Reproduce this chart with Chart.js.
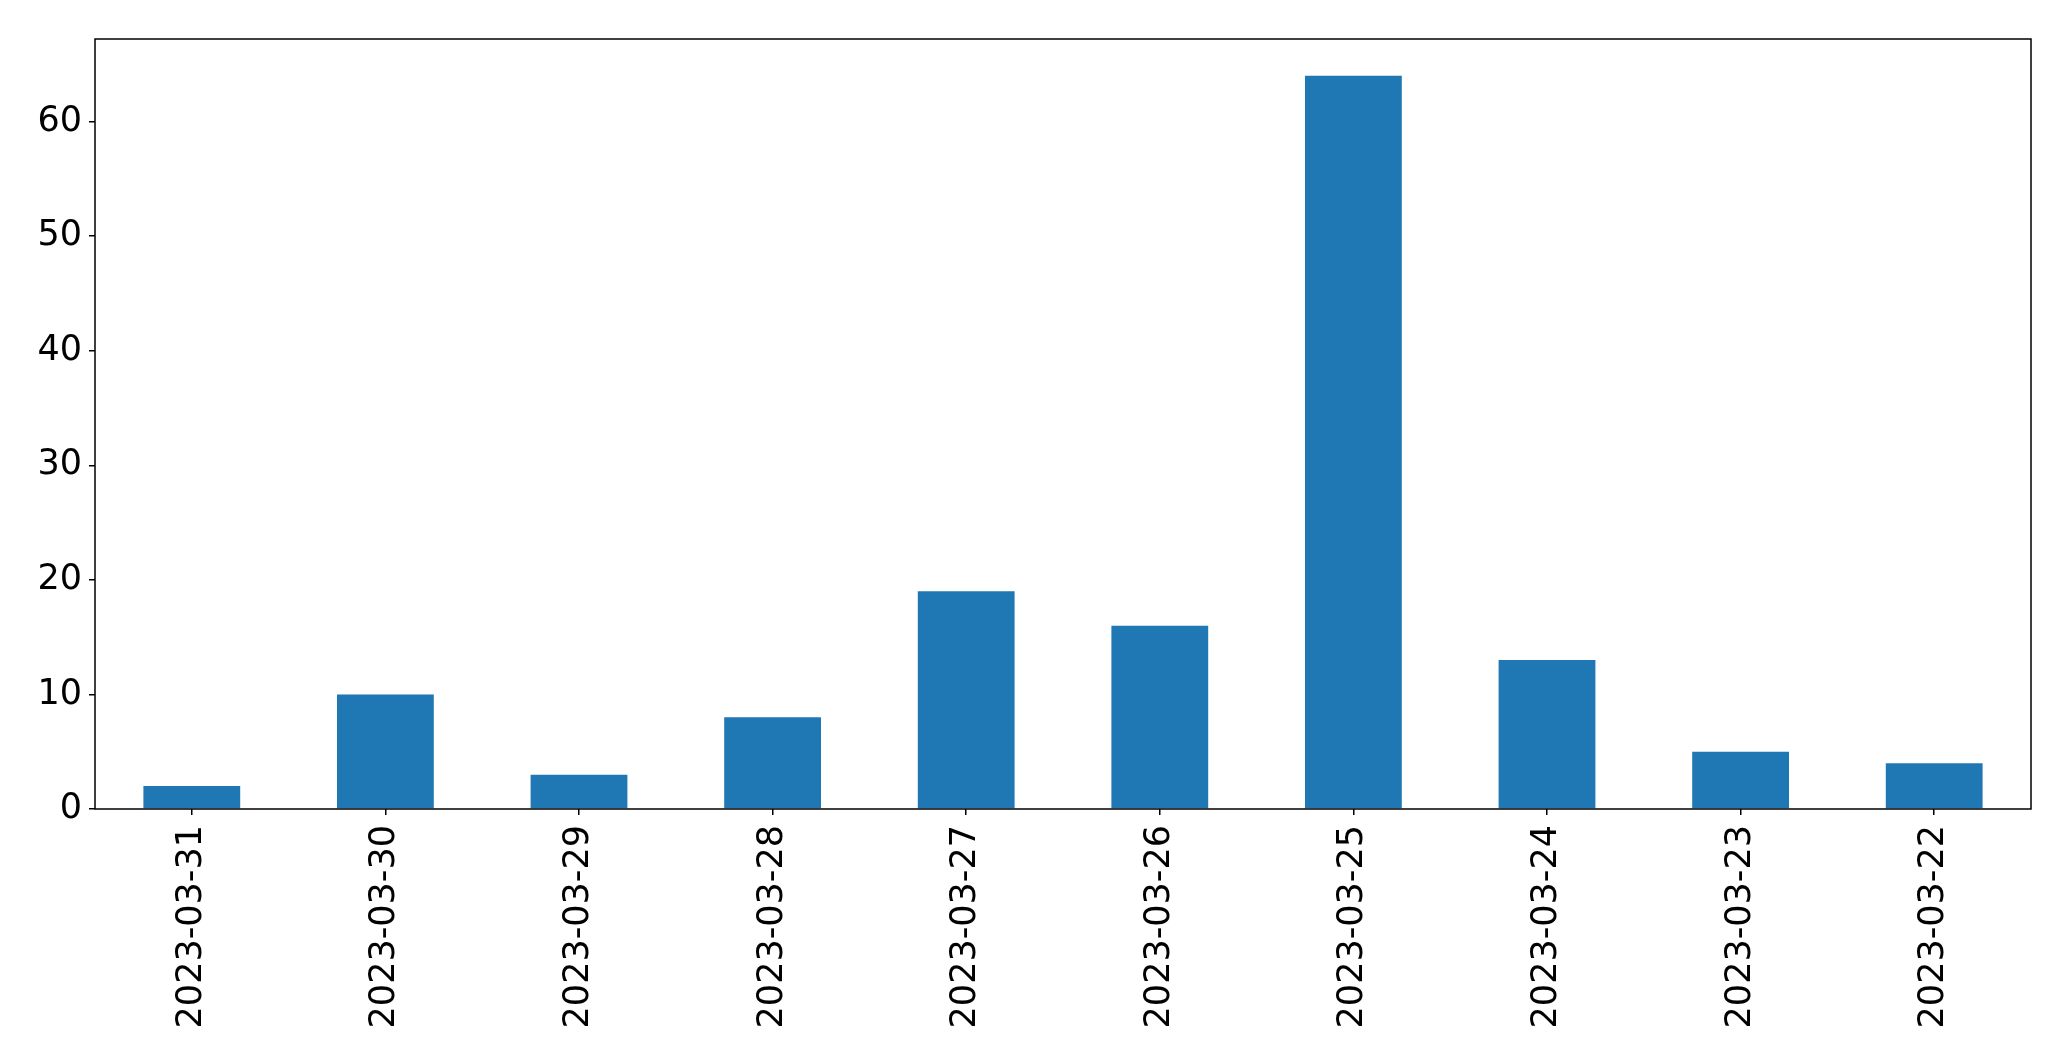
<!DOCTYPE html>
<html>
<head>
<meta charset="utf-8">
<script src="https://cdn.jsdelivr.net/npm/chart.js@4/dist/chart.umd.min.js"></script>
<style>
html,body{margin:0;padding:0;background:#fff;}
#wrap{width:2071px;height:1061px;}
</style>
</head>
<body>
<div id="wrap"><canvas id="c" width="2071" height="1061"></canvas></div>
<script>
const categories = ["2023-03-31","2023-03-30","2023-03-29","2023-03-28","2023-03-27","2023-03-26","2023-03-25","2023-03-24","2023-03-23","2023-03-22"];
const counts = [2, 10, 3, 8, 19, 16, 64, 13, 5, 4];
const yTickValues = [0, 10, 20, 30, 40, 50, 60];
const yMax = 67.2;

const frame = {
  id: 'frame',
  afterDraw(chart) {
    const a = chart.chartArea, ctx = chart.ctx;
    ctx.save();
    ctx.strokeStyle = '#000';
    ctx.lineWidth = 1.5;
    ctx.strokeRect(a.left, a.top, a.right - a.left, a.bottom - a.top);
    ctx.restore();
  }
};

new Chart(document.getElementById('c'), {
  type: 'bar',
  data: {
    labels: categories,
    datasets: [{
      data: counts,
      backgroundColor: '#1f77b4',
      borderWidth: 0,
      categoryPercentage: 1.0,
      barPercentage: 0.5
    }]
  },
  options: {
    responsive: false,
    devicePixelRatio: 1,
    animation: false,
    layout: { padding: { left: 0, top: 39, right: 40, bottom: 0 } },
    plugins: { legend: { display: false }, tooltip: { enabled: false } },
    scales: {
      x: {
        grid: { display: true, offset: false, drawOnChartArea: false, drawTicks: true, tickLength: 6, color: '#000', lineWidth: 1.5 },
        border: { display: false },
        ticks: {
          color: '#000',
          font: { family: 'DejaVu Sans', size: 35 },
          maxRotation: 90, minRotation: 90,
          padding: 10,
          autoSkip: false
        },
        afterFit(scale) { scale.height = 1061 - 809; }
      },
      y: {
        min: 0, max: yMax,
        grid: { display: true, drawOnChartArea: false, drawTicks: true, tickLength: 6, color: '#000', lineWidth: 1.5 },
        border: { display: false },
        ticks: {
          color: '#000',
          font: { family: 'DejaVu Sans', size: 35 },
          padding: 7
        },
        afterBuildTicks(scale) { scale.ticks = yTickValues.map(v => ({ value: v })); },
        afterFit(scale) { scale.width = 95; }
      }
    }
  },
  plugins: [frame]
});
</script>
</body>
</html>
